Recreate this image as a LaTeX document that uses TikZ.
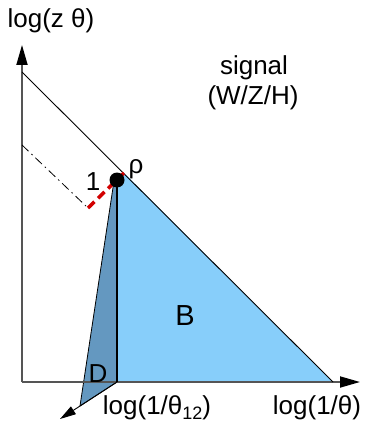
\documentclass[tikz,border=0pt]{standalone}
\usepackage{fontspec}
\setmainfont{Liberation Sans}
\usetikzlibrary{arrows.meta}
\definecolor{lightb}{RGB}{135,206,250}
\definecolor{darkb}{RGB}{100,152,192}
\definecolor{axisg}{RGB}{85,85,85}
\definecolor{redd}{RGB}{210,0,0}
\begin{document}
\begin{tikzpicture}[x=1pt,y=-1pt,
  lbl/.style={inner sep=0pt,font=\fontsize{26}{29}\selectfont},
  axisline/.style={draw=axisg,line width=1.8pt},
  thinline/.style={draw=black,line width=0.9pt}]
\useasboundingbox (0,0) rectangle (365,425);
\coordinate (O) at (22,382);
\coordinate (Ytip) at (22,45);
\coordinate (Xtip) at (360,382);
\coordinate (Dg1) at (22,72);
\coordinate (Dg2) at (333,382);
\coordinate (P) at (117,180);
\coordinate (Pt) at (124,173);
\coordinate (Q) at (117,382);
\coordinate (Ztip) at (60,419);
\coordinate (Dl) at (80,406);
\coordinate (Dt) at (114,181);
\coordinate (R1) at (88,208);
\coordinate (Dd1) at (22,145);
% regions
\fill[lightb] (P) -- (Pt) -- (Dg2) -- (Q) -- cycle;
\filldraw[fill=darkb,draw=black,line width=0.8pt] (Dt) -- (P) -- (Q) -- (Dl) -- cycle;
% axes
\draw[axisline,-{Triangle[length=20pt,width=11pt,color=black]}] (O) -- (Xtip);
\draw[axisline,-{Triangle[length=20pt,width=11pt,color=black]}] (O) -- (Ytip);
\draw[thinline,-{Triangle[length=16pt,width=9pt]}] (Q) -- (Ztip);
% lines
\draw[thinline] (Dg1) -- (Dg2);
\draw[thinline,line width=1.3pt] (P) -- (Q);
\draw[black,line width=0.8pt,dash pattern=on 9pt off 4pt on 1.5pt off 4pt] (Dd1) -- (R1);
\draw[redd,line width=3.5pt,dash pattern=on 9pt off 5pt] (R1) -- (Pt);
\fill[black] (P) circle (7.5pt);
% labels
\node[lbl] (ylab) at (51,21) {log(z θ)};
\node[lbl] (sig) at (254,68) {signal};
\node[lbl] (wzh) at (253,98) {(W/Z/H)};
\node[lbl] (rho) at (136,169) {ρ};
\node[lbl] (one) at (93,182) {1};
\node[lbl,font=\fontsize{29}{32}\selectfont] (B) at (185,316) {B};
\node[lbl] (D) at (98,374) {D};
\node[lbl] (zlab) at (157,408) {log(1/θ\raisebox{-5pt}{\fontsize{18}{20}\selectfont 12})};
\node[lbl] (xlab) at (317,408) {log(1/θ)};
\end{tikzpicture}
\end{document}
